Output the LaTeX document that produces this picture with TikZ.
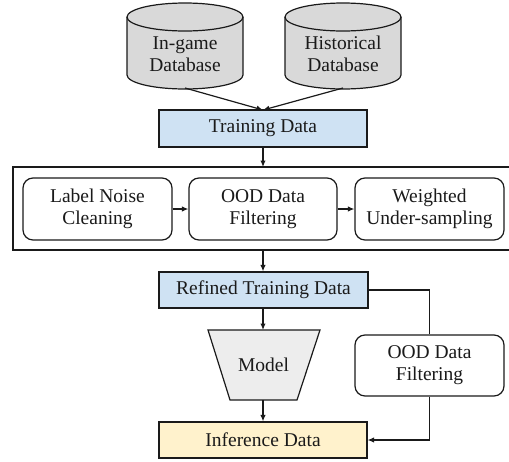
\documentclass[tikz,border=0pt]{standalone}
\usepackage{fontspec}
\setmainfont{Liberation Serif}
\usetikzlibrary{arrows.meta,positioning}
\definecolor{bluefill}{HTML}{CFE2F3}
\definecolor{yellowfill}{HTML}{FFF2CC}
\definecolor{cylfill}{HTML}{D9D9D9}
\definecolor{modelfill}{HTML}{EDEDED}
\definecolor{ink}{HTML}{1A1A1A}
\tikzset{
  every node/.style={font=\fontsize{19.5}{22}\selectfont, text=ink},
  line/.style={line width=1.2pt, draw=ink},
  arr/.style={line, -{Latex[length=6.5pt,width=5.5pt]}},
  databox/.style={line, rectangle, inner sep=0pt, align=center},
  roundbox/.style={line, rectangle, rounded corners=10pt, inner sep=0pt, align=center, fill=white},
}
\begin{document}
\begin{tikzpicture}[x=1pt,y=-1pt]
\useasboundingbox (0,0) rectangle (509,461);
% cylinders
\foreach \cx/\nm in {185/cylA,343/cylB}{
  \draw[line, fill=cylfill] (\cx-58,17) -- (\cx-58,75) arc[start angle=180,end angle=0,x radius=58,y radius=14]
     -- (\cx+58,17) arc[start angle=0,end angle=-180,x radius=58,y radius=14] -- cycle;
  \draw[line] (\cx-58,17) arc[start angle=180,end angle=0,x radius=58,y radius=14];
  \coordinate (\nm) at (\cx,88);
}
\node[align=center] (tA) at (185,54) {In-game\\Database};
\node[align=center] (tB) at (343,54) {Historical\\Database};
% training data
\node[databox, fill=bluefill, minimum width=208pt, minimum height=37pt] (train) at (263,128.5) {Training Data};
\coordinate (conv) at (263,110);
\draw[arr] (cylA) -- (conv);
\draw[arr] (cylB) -- (conv);
% outer box
\draw[line] (511,167) -- (13,167) -- (13,250) -- (511,250);
\coordinate (outtop) at (263,167);
\coordinate (outbot) at (263,250);
\draw[arr] (train.south) -- (outtop);
% inner boxes
\node[roundbox, minimum width=149pt, minimum height=62pt] (b1) at (97.5,209) {Label Noise\\Cleaning};
\node[roundbox, minimum width=148pt, minimum height=62pt] (b2) at (263,209) {OOD Data\\Filtering};
\node[roundbox, minimum width=149pt, minimum height=62pt] (b3) at (429.5,209) {Weighted\\Under-sampling};
\draw[arr] (b1) -- (b2);
\draw[arr] (b2) -- (b3);
% refined
\node[databox, fill=bluefill, minimum width=209pt, minimum height=36pt] (refined) at (263.5,290) {Refined Training Data};
\draw[arr] (outbot) -- (refined.north -| outbot);
% model
\coordinate (mtl) at (208,330);
\coordinate (mtr) at (320,330);
\coordinate (mbr) at (297,400);
\coordinate (mbl) at (230,400);
\draw[line, fill=modelfill] (mtl) -- (mtr) -- (mbr) -- (mbl) -- cycle;
\node (model) at (263.5,365) {Model};
\coordinate (mtop) at (263,330);
\coordinate (mbot) at (263,400);
\draw[arr] (refined.south -| mtop) -- (mtop);
% inference
\node[databox, fill=yellowfill, minimum width=208pt, minimum height=36pt] (infer) at (263,440) {Inference Data};
\draw[arr] (mbot) -- (infer.north -| mbot);
% right OOD
\node[roundbox, minimum width=149pt, minimum height=61pt] (ood) at (429.5,365.5) {OOD Data\\Filtering};
\draw[line] (refined.east) -| (ood.north);
\draw[arr] (ood.south) |- (infer.east);
\end{tikzpicture}
\end{document}
